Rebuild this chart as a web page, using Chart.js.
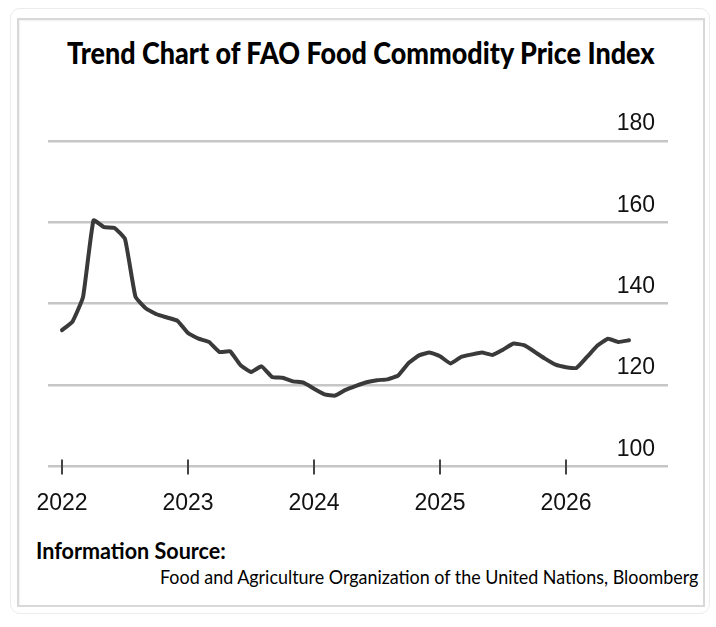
<!DOCTYPE html>
<html>
<head>
<meta charset="utf-8">
<script src="https://cdn.jsdelivr.net/npm/chart.js@4.4.1/dist/chart.umd.min.js"></script>
<style>
    html, body { margin: 0; padding: 0; background: #fff; }
    #page { position: relative; width: 716px; height: 627px; overflow: hidden; }
    .outer { position: absolute; left: 10px; top: 8px; width: 698px; height: 604px; border: 1px solid #ececec; border-radius: 10px; }
    .inner { position: absolute; left: 17px; top: 18px; width: 684px; height: 585px; border: 2px solid #d8d8d8; box-shadow: inset 1px 1px 2px rgba(0,0,0,0.06); }
    .txt { position: absolute; white-space: nowrap; line-height: 1; font-family: Lato, "Open Sans", sans-serif; color: #000; }
    #title { top: 37px; left: 67px; font-size: 30px; font-weight: 900; transform-origin: left top; }
    #src1 { top: 540px; left: 36px; font-size: 22px; font-weight: bold; transform-origin: left top; }
    #src2 { top: 566px; left: 160px; font-size: 20px; transform-origin: left top; }
    canvas { position: absolute; left: 0; top: 0; }
</style>
</head>
<body>
<div id="page">
    <div class="outer"></div>
    <div class="inner"></div>
    <div class="txt" id="title" data-w="588">Trend Chart of FAO Food Commodity Price Index</div>
    <div class="txt" id="src1" data-w="190">Information Source:</div>
    <div class="txt" id="src2" data-w="538">Food and Agriculture Organization of the United Nations, Bloomberg</div>
    <canvas id="trendChart" width="716" height="627"></canvas>
</div>
<script>
// monthly FAO food price index
var months = [
    '2022-01','2022-02','2022-03','2022-04','2022-05','2022-06','2022-07','2022-08','2022-09','2022-10','2022-11','2022-12',
    '2023-01','2023-02','2023-03','2023-04','2023-05','2023-06','2023-07','2023-08','2023-09','2023-10','2023-11','2023-12',
    '2024-01','2024-02','2024-03','2024-04','2024-05','2024-06','2024-07','2024-08','2024-09','2024-10','2024-11','2024-12',
    '2025-01','2025-02','2025-03','2025-04','2025-05','2025-06','2025-07','2025-08','2025-09','2025-10','2025-11','2025-12',
    '2026-01','2026-02','2026-03','2026-04','2026-05','2026-06','2026-07'
];
var priceIndex = [
    133.5, 135.6, 141.6, 160.5, 158.8, 158.6, 155.9, 141.7, 138.8, 137.4, 136.6, 135.8,
    132.8, 131.4, 130.6, 128.1, 128.3, 124.9, 123.2, 124.6, 122.0, 121.8, 120.9, 120.6,
    119.1, 117.7, 117.4, 118.8, 119.8, 120.7, 121.2, 121.4, 122.3, 125.4, 127.3, 128.0,
    127.1, 125.3, 126.9, 127.5, 128.0, 127.4, 128.7, 130.2, 129.8, 128.2, 126.5, 125.0,
    124.4, 124.2, 126.9, 129.7, 131.4, 130.6, 131.0
];
var yearTicks = [2022, 2023, 2024, 2025, 2026];
var valueTicks = [100, 120, 140, 160, 180];

// squeeze the html texts to the width they have in the picture
document.querySelectorAll('.txt').forEach(function(el) {
    var w = Number(el.getAttribute('data-w'));
    el.style.transform = 'scaleX(' + (w / el.offsetWidth) + ')';
});

var points = months.map(function(m, i) {
    var parts = m.split('-');
    return { x: Number(parts[0]) + (Number(parts[1]) - 1) / 12, y: priceIndex[i] };
});

// small tick marks crossing the bottom line at each year
var yearMarks = {
    id: 'yearMarks',
    beforeDatasetsDraw: function(chart) {
        var ctx = chart.ctx;
        var xs = chart.scales.x;
        var base = chart.scales.y.getPixelForValue(100);
        ctx.save();
        ctx.strokeStyle = '#444';
        ctx.lineWidth = 2;
        yearTicks.forEach(function(yr) {
            var px = xs.getPixelForValue(yr);
            ctx.beginPath();
            ctx.moveTo(px, base - 7);
            ctx.lineTo(px, base + 8);
            ctx.stroke();
        });
        ctx.restore();
    }
};

var ctx = document.getElementById('trendChart').getContext('2d');
var chart1 = new Chart(ctx, {
    type: 'line',
    data: {
        datasets: [{
            label: 'FAO Food Price Index',
            data: points,
            borderColor: '#3a3a3a',
            borderWidth: 4,
            pointRadius: 0,
            tension: 0.12,
            borderCapStyle: 'round',
            borderJoinStyle: 'round',
            fill: false
        }]
    },
    options: {
        responsive: false,
        animation: false,
        layout: { padding: { left: 48, right: 48, top: 141, bottom: 87 } },
        plugins: {
            legend: { display: false },
            tooltip: { enabled: false }
        },
        scales: {
            x: {
                type: 'linear',
                min: 2022 - 14 / 126,
                max: 2022 + 606 / 126,
                afterBuildTicks: function(scale) {
                    scale.ticks = yearTicks.map(function(v) { return { value: v }; });
                },
                grid: { display: false, drawTicks: false },
                border: { display: false },
                ticks: {
                    padding: 23,
                    color: '#111',
                    font: { family: '"Liberation Sans", Arial, sans-serif', size: 23, lineHeight: 1.2 },
                    callback: function(v) { return String(v); }
                }
            },
            y: {
                position: 'right',
                min: 100,
                max: 180,
                afterBuildTicks: function(scale) {
                    scale.ticks = valueTicks.map(function(v) { return { value: v }; });
                },
                grid: { color: '#c6c6c6', lineWidth: 2.5, drawTicks: false },
                border: { display: false },
                ticks: {
                    mirror: true,
                    padding: -13,
                    labelOffset: -17,
                    color: '#111',
                    font: { family: '"Liberation Sans", Arial, sans-serif', size: 23, lineHeight: 1.2 }
                }
            }
        }
    },
    plugins: [yearMarks]
});
</script>
</body>
</html>
